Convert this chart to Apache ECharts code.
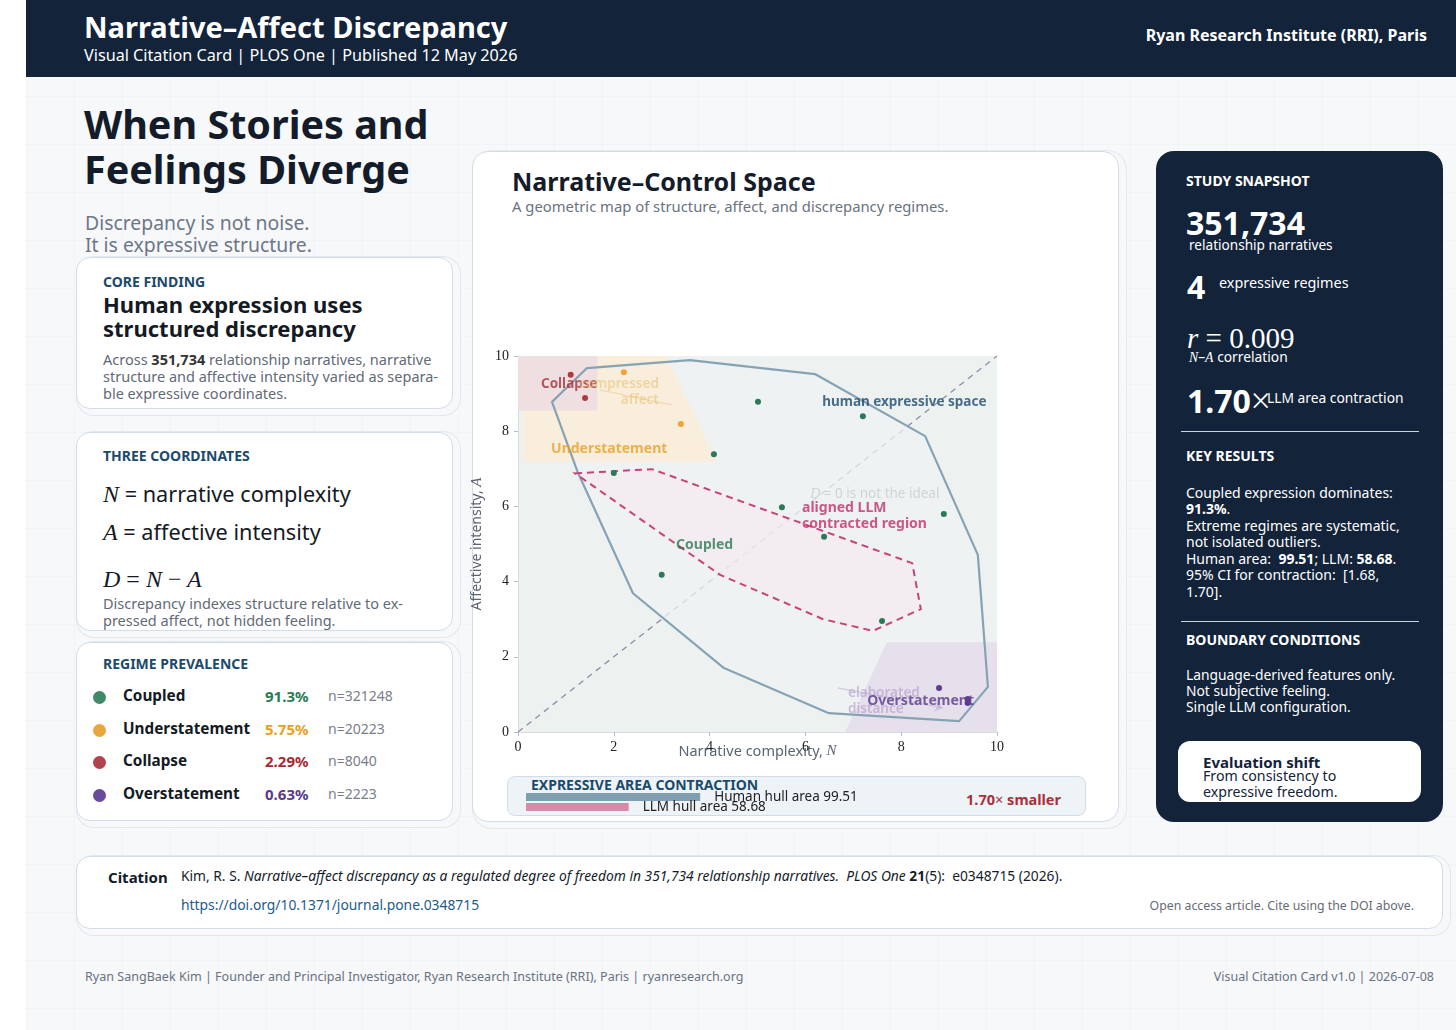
<!DOCTYPE html>
<html><head><meta charset="utf-8">
<script src="https://cdn.jsdelivr.net/npm/echarts@6/dist/echarts.min.js"></script>
<style>
*{margin:0;padding:0;box-sizing:border-box}
body{width:1456px;height:1030px;background:#fff;font-family:'Noto Sans',sans-serif;overflow:hidden;position:relative;color:#141c2a}
#page{position:absolute;left:26px;top:0;width:1430px;height:1030px;background:#f6f8fa;
 background-image:linear-gradient(rgba(20,40,80,0.018) 1px,transparent 1px),linear-gradient(90deg,rgba(20,40,80,0.018) 1px,transparent 1px);background-size:48px 48px;}
.a{position:absolute;white-space:nowrap}
.m{font-family:'Liberation Serif','DejaVu Serif',serif;font-style:italic}
.card{position:absolute;background:#fff;border:1.5px solid #d4dce8;border-radius:14px;
 box-shadow:4px 3px 0 3px #f6f8fa,4px 3px 0 4px #e3e8ef}
.kick{font-size:14px;font-weight:700;color:#1b4a6b;line-height:18px}
.body{font-size:14.5px;color:#626a76;line-height:17px}
.dot{position:absolute;width:13px;height:13px;border-radius:50%}
.wt{color:#fff}
</style></head>
<body>
<div id="page"></div>
<div class="a" style="left:26px;top:0;width:1430px;height:77px;background:#12233a"></div>
<div class="a wt" style="left:84px;top:10px;font-size:29px;font-weight:700;line-height:34px">Narrative–Affect Discrepancy</div>
<div class="a wt" style="left:84px;top:45px;font-size:16.2px;line-height:20px">Visual Citation Card | PLOS One | Published 12 May 2026</div>
<div class="a wt" style="right:29px;top:25px;font-size:16px;font-weight:700;line-height:20px">Ryan Research Institute (RRI), Paris</div>

<div class="a" style="left:84px;top:102px;font-size:39.5px;font-weight:700;line-height:45px;color:#141c2a">When Stories and<br>Feelings Diverge</div>
<div class="a" style="left:85px;top:212px;font-size:19.4px;line-height:22px;color:#6e7786">Discrepancy is not noise.<br>It is expressive structure.</div>

<!-- card 1 -->
<div class="card" style="left:76px;top:257px;width:377px;height:152px"></div>
<div class="a kick" style="left:103px;top:273px">CORE FINDING</div>
<div class="a" style="left:103px;top:292px;font-size:22px;font-weight:700;line-height:24px;color:#141a24">Human expression uses<br>structured discrepancy</div>
<div class="a body" style="left:103px;top:351px">Across <b style="color:#333">351,734</b> relationship narratives, narrative<br>structure and affective intensity varied as separa-<br>ble expressive coordinates.</div>

<!-- card 2 -->
<div class="card" style="left:76px;top:432px;width:377px;height:199px"></div>
<div class="a kick" style="left:103px;top:447px">THREE COORDINATES</div>
<div class="a" style="left:103px;top:481px;font-size:21.7px;line-height:26px;color:#141a24"><span class="m" style="font-size:24px">N</span> = narrative complexity</div>
<div class="a" style="left:103px;top:519px;font-size:21.7px;line-height:26px;color:#141a24"><span class="m" style="font-size:24px">A</span> = affective intensity</div>
<div class="a m" style="left:103px;top:566px;font-size:24px;line-height:26px;color:#141a24">D <span style="font-style:normal">=</span> N <span style="font-style:normal">−</span> A</div>
<div class="a body" style="left:103px;top:595px">Discrepancy indexes structure relative to ex-<br>pressed affect, not hidden feeling.</div>

<!-- card 3 -->
<div class="card" style="left:76px;top:642px;width:377px;height:179px"></div>
<div class="a kick" style="left:103px;top:655px">REGIME PREVALENCE</div>
<div id="rows"></div>

<!-- chart card -->
<div class="card" style="left:472px;top:151px;width:647px;height:671px;border-radius:16px"></div>
<div class="a" style="left:512px;top:165px;font-size:25px;font-weight:700;line-height:32px;color:#141c2a">Narrative–Control Space</div>
<div class="a" style="left:512px;top:196px;font-size:14.8px;line-height:20px;color:#6b7280">A geometric map of structure, affect, and discrepancy regimes.</div>
<div class="a" style="left:507px;top:776px;width:579px;height:40px;background:#eef3f7;border:1px solid #d3dce6;border-radius:8px"></div>
<div class="a" style="left:531px;top:776px;font-size:14px;font-weight:700;line-height:18px;color:#1b4a6b">EXPRESSIVE AREA CONTRACTION</div>
<div class="a" style="right:395px;top:789px;font-size:14.5px;font-weight:700;line-height:20px;color:#a8323a">1.70<span style="font-weight:400">×</span> smaller</div>
<div id="chart" class="a" style="left:452px;top:151px;width:667px;height:671px;z-index:2"></div>

<!-- right panel -->
<div class="a" style="left:1156px;top:151px;width:287px;height:671px;background:#12233a;border-radius:18px"></div>
<div class="a wt" style="left:1186px;top:172px;font-size:14px;font-weight:700;line-height:18px">STUDY SNAPSHOT</div>
<div class="a wt" style="left:1186px;top:203px;font-size:32px;font-weight:700;line-height:40px">351,734</div>
<div class="a wt" style="left:1189px;top:235px;font-size:13.6px;line-height:20px">relationship narratives</div>
<div class="a wt" style="left:1187px;top:267px;font-size:32px;font-weight:700;line-height:40px">4</div>
<div class="a wt" style="left:1219px;top:273px;font-size:14.4px;line-height:20px">expressive regimes</div>
<div class="a wt" style="left:1187px;top:320px;font-size:29px;line-height:36px;font-family:'Liberation Serif',serif"><i>r</i> = 0.009</div>
<div class="a wt" style="left:1189px;top:347px;font-size:13.8px;line-height:20px"><span class="m">N</span>–<span class="m">A</span> correlation</div>
<div class="a wt" style="left:1187px;top:380px;font-size:32px;font-weight:700;line-height:40px">1.70<span style="font-weight:300;font-size:34px">×</span></div>
<div class="a wt" style="left:1267px;top:388px;font-size:13.8px;line-height:20px">LLM area contraction</div>
<div class="a" style="left:1181px;top:431px;width:238px;height:1px;background:#c9d1dc"></div>
<div class="a wt" style="left:1186px;top:447px;font-size:14px;font-weight:700;line-height:18px">KEY RESULTS</div>
<div class="a wt" style="left:1186px;top:484.5px;font-size:14px;line-height:16.5px">Coupled expression dominates:<br><b>91.3%</b>.<br>Extreme regimes are systematic,<br>not isolated outliers.<br>Human area:&nbsp; <b>99.51</b>; LLM: <b>58.68</b>.<br>95% CI for contraction:&nbsp; [1.68,<br>1.70].</div>
<div class="a" style="left:1181px;top:621px;width:238px;height:1px;background:#c9d1dc"></div>
<div class="a wt" style="left:1186px;top:631px;font-size:14px;font-weight:700;line-height:18px">BOUNDARY CONDITIONS</div>
<div class="a wt" style="left:1186px;top:667px;font-size:13.8px;line-height:16px">Language-derived features only.<br>Not subjective feeling.<br>Single LLM configuration.</div>
<div class="a" style="left:1178px;top:741px;width:243px;height:61px;background:#fff;border-radius:12px"></div>
<div class="a" style="left:1203px;top:752px;font-size:15px;font-weight:700;line-height:20px;color:#12233a">Evaluation shift</div>
<div class="a" style="left:1203px;top:768px;font-size:14.2px;line-height:16px;color:#12233a">From consistency to<br>expressive freedom.</div>

<!-- citation -->
<div class="card" style="left:76px;top:856px;width:1367px;height:73px"></div>
<div class="a" style="left:108px;top:867px;font-size:15px;font-weight:700;line-height:20px;color:#141c2a">Citation</div>
<div class="a" style="left:181px;top:866px;font-size:13.8px;line-height:20px;color:#141c2a">Kim, R. S. <i>Narrative–affect discrepancy as a regulated degree of freedom in 351,734 relationship narratives.</i>&nbsp; <i>PLOS One</i> <b>21</b>(5):&nbsp; e0348715 (2026).</div>
<div class="a" style="left:181px;top:895px;font-size:13.85px;line-height:20px;color:#1d5b8c">https://doi.org/10.1371/journal.pone.0348715</div>
<div class="a" style="right:42px;top:897px;font-size:12.3px;line-height:18px;color:#666c75">Open access article. Cite using the DOI above.</div>

<div class="a" style="left:85px;top:968px;font-size:12.55px;line-height:18px;color:#6b7280">Ryan SangBaek Kim | Founder and Principal Investigator, Ryan Research Institute (RRI), Paris | ryanresearch.org</div>
<div class="a" style="right:22px;top:968px;font-size:12.5px;line-height:18px;color:#6b7280">Visual Citation Card v1.0 | 2026-07-08</div>

<script>
// ---------- data ----------
const regimeNames = ['Coupled', 'Understatement', 'Collapse', 'Overstatement'];
const regimePct = ['91.3%', '5.75%', '2.29%', '0.63%'];
const regimeN = [321248, 20223, 8040, 2223];

const xTicks = [0, 2, 4, 6, 8, 10];
const yTicks = [0, 2, 4, 6, 8, 10];

const humanHull = [[0.71,8.78],[1.44,9.68],[3.59,9.89],[6.2,9.52],[8.5,7.87],[9.6,4.71],[9.81,1.2],[9.21,0.29],[6.49,0.5],[4.3,1.7],[2.4,3.69],[1.25,6.9]];
const llmHull = [[1.19,6.88],[2.8,6.99],[8.23,4.49],[8.41,3.27],[7.41,2.69],[6.37,3.0],[4.22,4.18]];
const diagonal = [[0,0],[10,10]];

const regionCollapse = [[0,8.55],[1.66,8.55],[1.66,10],[0,10]];
const regionUnder = [[0.1,7.19],[4.15,7.19],[3.1,10],[0.1,10]];
const regionOver = [[6.83,0],[7.7,2.39],[10,2.39],[10,0]];

const coupledPts = [[5.01,8.78],[7.2,8.4],[4.09,7.39],[2.0,6.89],[5.51,5.98],[8.89,5.8],[6.39,5.19],[3.0,4.18],[7.6,2.95]];
const understatementPts = [[2.21,9.57],[3.4,8.19]];
const collapsePts = [[1.1,9.5],[1.4,8.88]];
const overstatementPts = [[8.79,1.17],[9.39,0.88],[9.39,0.77]];

const annotationText = ['Collapse','compressed\naffect','Understatement','human expressive space','{i|D} = 0 is not the ideal','aligned LLM\ncontracted region','Coupled','elaborated\ndistance','Overstatement'];
const annotationAt = [[0.48,9.26],[2.94,9.04],[0.69,7.53],[6.35,8.78],[6.1,6.33],[5.93,5.74],[3.3,4.97],[6.89,0.82],[7.29,0.82]];
const pointerLines = [[[1.71,9.1],[3.21,8.7]]];
const arrowLines = [[[6.68,1.17],[8.87,0.64]]];

const hullNames = ['Human hull area', 'LLM hull area'];
const hullValues = [99.51, 58.68];

// ---------- HTML rows ----------
const regimeColors = ['#3f8a68','#eaa63e','#b0434b','#6a4a9a'];
const pctColors = ['#2a7a55','#e8a024','#a8282f','#5a3a8c'];
const rowsEl = document.getElementById('rows');
const rowCenters = [696, 729, 761, 794];
regimeNames.forEach((n, i) => {
  const c = rowCenters[i];
  rowsEl.insertAdjacentHTML('beforeend',
    `<div class="dot" style="left:92.5px;top:${c-5.5}px;background:${regimeColors[i]}"></div>
     <div class="a" style="left:123px;top:${c-12}px;font-size:15.3px;font-weight:700;line-height:22px;color:#141a24">${n}</div>
     <div class="a" style="left:265px;top:${c-11}px;font-size:15px;font-weight:700;line-height:22px;color:${pctColors[i]}">${regimePct[i]}</div>
     <div class="a" style="left:328px;top:${c-11}px;font-size:14px;line-height:22px;color:#7a808a">n=${regimeN[i]}</div>`);
});

// ---------- chart ----------
const serif = "'Liberation Serif','DejaVu Serif',serif";
const sans = "'Noto Sans',sans-serif";
const chart = echarts.init(document.getElementById('chart'));

function poly(pts, style, z) {
  return {
    type: 'custom', coordinateSystem: 'cartesian2d', xAxisIndex: 0, yAxisIndex: 0,
    silent: true, z: z, data: [[0, 0]], encode: {x: 0, y: 1},
    renderItem: (p, api) => ({type: 'polygon', shape: {points: pts.map(q => api.coord(q))}, style: style})
  };
}
function dots(pts, color) {
  return {type: 'scatter', xAxisIndex: 0, yAxisIndex: 0, data: pts, symbolSize: 6, z: 7, silent: true,
    itemStyle: {color: color, opacity: 1}};
}
const lab = (color, extra) => Object.assign({show: true, position: [0, 0], align: 'left', verticalAlign: 'middle',
  fontFamily: sans, fontSize: 13.5, fontWeight: 700, color: color, lineHeight: 16}, extra || {});
const labelStyles = [
  lab('#a8323a'),
  lab('rgba(232,190,110,0.7)', {align: 'right', fontWeight: 600}),
  lab('#e8a02c', {fontSize: 14}),
  lab('#1d4a6e'),
  lab('#c8ccd0', {fontWeight: 400, rich: {i: {fontFamily: serif, fontStyle: 'italic', fontSize: 14, color: '#c8ccd0'}}}),
  lab('#c0306a', {fontSize: 14}),
  lab('#2a7a55', {fontSize: 14}),
  lab('rgba(180,160,205,0.85)', {fontWeight: 600}),
  lab('#5a3a8c', {fontSize: 14})
];

const barColors = ['#7f9fb0', '#d98aa8'];

chart.setOption({
  animation: false,
  grid: [
    {left: 66, top: 205, width: 479, height: 376, show: true, backgroundColor: '#edf2f1', borderWidth: 0,
     containLabel: false, outerBoundsMode: 'none'},
    {left: 74, top: 641, width: 175, height: 20, containLabel: false, outerBoundsMode: 'none'}
  ],
  xAxis: [
    {gridIndex: 0, type: 'value', min: 0, max: 10, interval: 2,
     axisLine: {show: true, lineStyle: {color: '#d8dde3'}},
     axisTick: {show: true, length: 4, lineStyle: {color: '#b5bcc6'}},
     splitLine: {show: false},
     axisLabel: {fontFamily: serif, fontSize: 14, color: '#222', margin: 8, formatter: v => xTicks.includes(v) ? String(v) : ''},
     name: 'Narrative complexity, {i|N}', nameLocation: 'middle', nameGap: 12, nameMoveOverlap: false,
     nameTextStyle: {fontFamily: sans, fontSize: 14.5, color: '#5b6472',
       rich: {i: {fontFamily: serif, fontStyle: 'italic', fontSize: 15, color: '#5b6472'}}}},
    {gridIndex: 1, type: 'value', min: 0, max: 100, show: false}
  ],
  yAxis: [
    {gridIndex: 0, type: 'value', min: 0, max: 10, interval: 2,
     axisLine: {show: true, lineStyle: {color: '#d8dde3'}},
     axisTick: {show: true, length: 4, lineStyle: {color: '#b5bcc6'}},
     splitLine: {show: false},
     axisLabel: {fontFamily: serif, fontSize: 14, color: '#222', margin: 9, formatter: v => yTicks.includes(v) ? String(v) : ''},
     name: 'Affective intensity, {i|A}', nameLocation: 'middle', nameGap: 33, nameMoveOverlap: false,
     nameTextStyle: {fontFamily: sans, fontSize: 14, color: '#5b6472',
       rich: {i: {fontFamily: serif, fontStyle: 'italic', fontSize: 15, color: '#5b6472'}}}},
    {gridIndex: 1, type: 'category', data: hullNames, inverse: true, show: false}
  ],
  series: [
    {type: 'line', xAxisIndex: 0, yAxisIndex: 0, data: diagonal, symbol: 'none', z: 1, silent: true,
     lineStyle: {color: '#8a8fa6', width: 1.3, type: [6, 5]}},
    poly(humanHull, {fill: 'rgba(237,242,241,0.74)'}, 2),
    poly(regionUnder, {fill: '#f8eedb'}, 3),
    poly(regionCollapse, {fill: '#f0dfe1'}, 3),
    poly(regionOver, {fill: '#e6e0ec'}, 3),
    poly(llmHull, {fill: 'rgba(248,232,242,0.5)'}, 4),
    poly(humanHull, {fill: 'none', stroke: '#86a3b5', lineWidth: 2.2, lineJoin: 'round'}, 5),
    poly(llmHull, {fill: 'none', stroke: '#c8437c', lineWidth: 2, lineDash: [7, 5]}, 5),
    {type: 'lines', coordinateSystem: 'cartesian2d', xAxisIndex: 0, yAxisIndex: 0, z: 6, silent: true,
     data: pointerLines.map(c => ({coords: c})), lineStyle: {color: 'rgba(228,190,120,0.8)', width: 1.3}},
    {type: 'lines', coordinateSystem: 'cartesian2d', xAxisIndex: 0, yAxisIndex: 0, z: 6, silent: true,
     symbol: ['none', 'arrow'], symbolSize: 8,
     data: arrowLines.map(c => ({coords: c})), lineStyle: {color: 'rgba(180,160,205,0.9)', width: 1.3}},
    dots(coupledPts, '#2a7a5a'),
    dots(understatementPts, '#eaa43a'),
    dots(collapsePts, '#b03a42'),
    dots(overstatementPts, '#5e3d8f'),
    {type: 'scatter', xAxisIndex: 0, yAxisIndex: 0, symbolSize: 0, z: 8, silent: true,
     data: annotationAt.map((p, i) => ({value: p, label: Object.assign({}, labelStyles[i], {formatter: annotationText[i]})}))},
    {type: 'bar', xAxisIndex: 1, yAxisIndex: 1, barWidth: 8, silent: true,
     data: hullValues.map((v, i) => ({value: v, itemStyle: {color: barColors[i]}})),
     label: {show: true, position: 'right', distance: 14, fontFamily: sans, fontSize: 13.5, color: '#222',
       formatter: p => hullNames[p.dataIndex] + ' ' + p.value}}
  ]
});
</script>
</body></html>
